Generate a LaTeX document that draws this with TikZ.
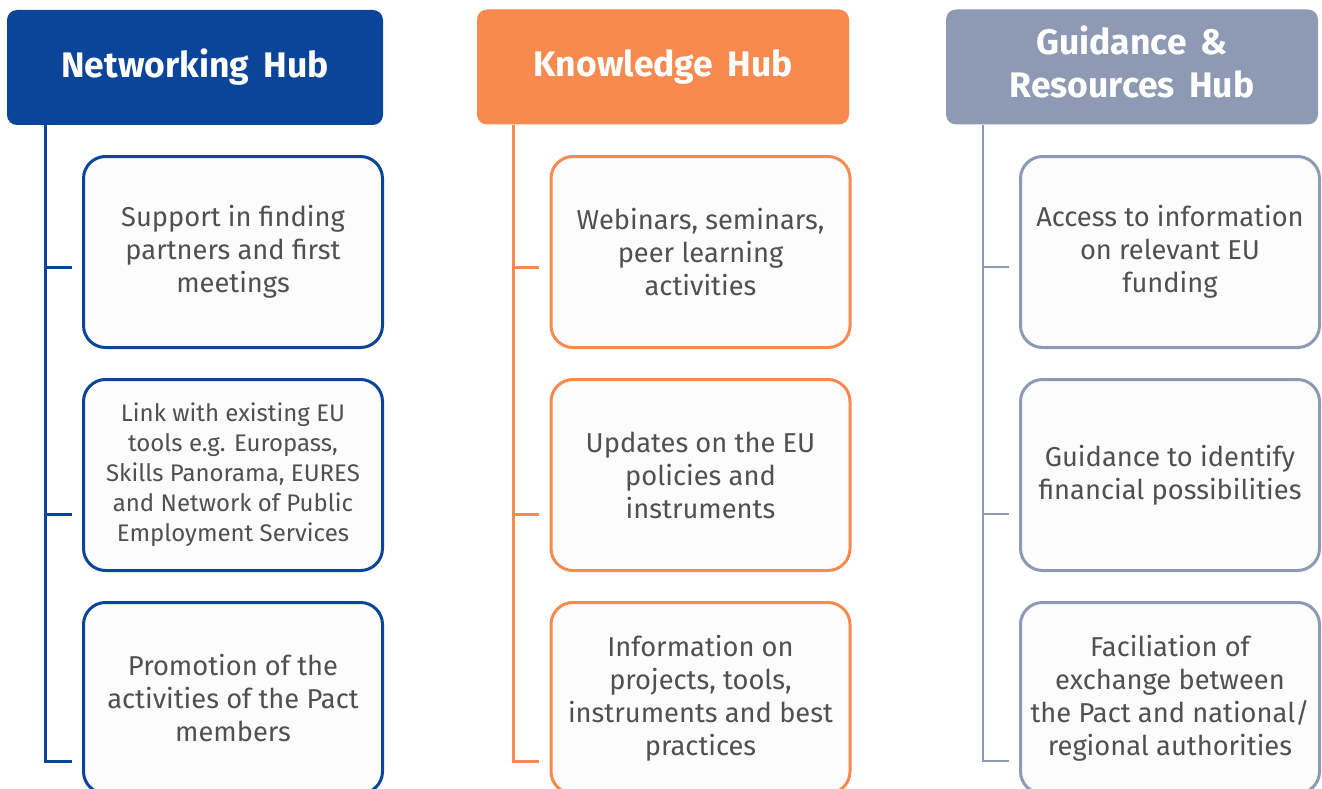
\documentclass[tikz,border=0pt]{standalone}
\usepackage{fontspec}
\setmainfont{Fira Sans}
\definecolor{nblue}{HTML}{0A4599}
\definecolor{korange}{HTML}{F98A4F}
\definecolor{ggray}{HTML}{8E9AB3}
\definecolor{txt}{HTML}{505050}
\definecolor{boxfill}{HTML}{FCFCFC}
\begin{document}
\begin{tikzpicture}[x=1pt,y=-1pt,
  hub/.style={rounded corners=10pt, minimum height=115pt, inner sep=0pt, text=white,
    font=\fontsize{35.5}{43}\selectfont\bfseries, align=center},
  item/.style={draw, line width=3pt, rounded corners=22pt, fill=boxfill,
    minimum width=299pt, minimum height=191pt, inner sep=0pt, text=txt,
    font=\fontsize{27.3}{33}\selectfont, align=center},
  smallitem/.style={item, font=\fontsize{24}{30}\selectfont},
  link/.style={line width=3pt}]
\useasboundingbox (0,0) rectangle (1322,789);
% headers
\node[hub, fill=nblue, minimum width=376pt] (h1) at (195,67.5) {Networking\hspace{0.4em}Hub};
\node[hub, fill=korange, minimum width=372pt] (h2) at (663,67) {Knowledge\hspace{0.4em}Hub};
\node[hub, fill=ggray, minimum width=372pt] (h3) at (1132,67) {\raisebox{3pt}{\begin{tabular}{@{}c@{}}Guidance\hspace{0.4em}\&\\Resources\hspace{0.4em}Hub\end{tabular}}};
% column 1
\node[item, draw=nblue] (b11) at (233,252) {Support in finding\\partners and first\\meetings};
\node[smallitem, draw=nblue] (b12) at (233,475) {Link with existing EU\\tools e.g. Europass,\\Skills Panorama, EURES\\and Network of Public\\Employment Services};
\node[item, draw=nblue] (b13) at (233,698) {Promotion of the\\activities of the Pact\\members};
% column 2
\node[item, draw=korange] (b21) at (700.5,252) {Webinars, seminars,\\peer learning\\activities};
\node[item, draw=korange] (b22) at (700.5,475) {Updates on the EU\\policies and\\instruments};
\node[item, draw=korange] (b23) at (700.5,698) {Information on\\projects, tools,\\instruments and best\\practices};
% column 3
\node[item, draw=ggray] (b31) at (1170,252) {Access to information\\on relevant EU\\funding};
\node[item, draw=ggray] (b32) at (1170,475) {Guidance to identify\\financial possibilities};
\node[item, draw=ggray] (b33) at (1170,698) {Faciliation of\\exchange between\\the Pact and national/\\regional authorities};
% connector ends
\coordinate (e11) at (72,267);  \coordinate (e12) at (72,514);  \coordinate (e13) at (72,761);
\coordinate (e21) at (539,267); \coordinate (e22) at (539,514); \coordinate (e23) at (539,761);
\coordinate (e31) at (1009,267); \coordinate (e32) at (1009,514); \coordinate (e33) at (1009,761);
\coordinate (s1) at (45,761); \coordinate (s2) at (513,761); \coordinate (s3) at (983,761);
% connectors
\draw[link, nblue] (h1.south -| s1) -- (s1) -- (e13);
\draw[link, nblue] (s1 |- e11) -- (e11);
\draw[link, nblue] (s1 |- e12) -- (e12);
\draw[link, korange] (h2.south -| s2) -- (s2) -- (e23);
\draw[link, korange] (s2 |- e21) -- (e21);
\draw[link, korange] (s2 |- e22) -- (e22);
\draw[link, ggray, line width=2.5pt] (h3.south -| s3) -- (s3) -- (e33);
\draw[link, ggray, line width=2.5pt] (s3 |- e31) -- (e31);
\draw[link, ggray, line width=2.5pt] (s3 |- e32) -- (e32);
\end{tikzpicture}
\end{document}
